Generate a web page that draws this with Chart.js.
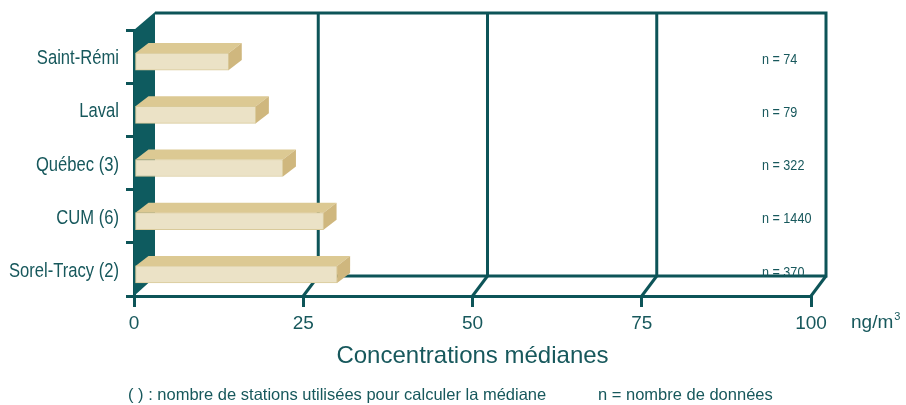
<!DOCTYPE html>
<html>
<head>
<meta charset="utf-8">
<script src="https://cdn.jsdelivr.net/npm/chart.js@4.4.1/dist/chart.umd.min.js"></script>
<style>
  html, body { margin: 0; padding: 0; background: #ffffff; }
  canvas { display: block; }
</style>
</head>
<body>
<canvas id="c" width="906" height="405"></canvas>
<script>
// Median concentrations (ng/m3) by station group
const stations = ['Saint-Rémi', 'Laval', 'Québec (3)', 'CUM (6)', 'Sorel-Tracy (2)'];
const medianes = [14, 18, 22, 28, 30];
const nDonnees = [74, 79, 322, 1440, 370];
const xTicks = [0, 25, 50, 75, 100];

const TEAL = '#0d5458';
const WALL = '#0e5b5f';
const TEXT = '#17585c';
const BAR_FRONT = '#ebe2c6';
const BAR_TOP = '#dcc993';
const BAR_SIDE = '#cfb77e';
const BAR_EDGE = '#d9ca9a';

const SANS = "'Liberation Sans', Arial, sans-serif";
const CONDENSE = 0.81; // horizontal squeeze for condensed labels

// pseudo-3D geometry
const BACK_DX = 15;      // back plane shift (right)
const WALL_DX = 21;      // depth of the left wall
const BACK_TOP_DY = -17; // back plane top relative to front top
const BACK_BOT_DY = -20; // back plane floor relative to front floor
const BAR_DX = 13, BAR_DY = -10; // bar depth

function condensedText(ctx, text, x, y, sx) {
  ctx.save();
  ctx.translate(x, y);
  ctx.scale(sx, 1);
  ctx.fillText(text, 0, 0);
  ctx.restore();
}

const scene3d = {
  id: 'scene3d',
  beforeDatasetsDraw(chart) {
    const { ctx, chartArea: a, scales: { x } } = chart;
    const backTop = a.top + BACK_TOP_DY;
    const backBot = a.bottom + BACK_BOT_DY;
    const backLeft = a.left + WALL_DX;
    const backRight = x.getPixelForValue(xTicks[xTicks.length - 1]) + BACK_DX;

    ctx.save();
    ctx.strokeStyle = TEAL;
    ctx.lineWidth = 3;
    ctx.lineJoin = 'miter';

    // back wall frame
    ctx.beginPath();
    ctx.moveTo(backLeft, backTop);
    ctx.lineTo(backRight, backTop);
    ctx.lineTo(backRight, backBot);
    ctx.lineTo(backLeft, backBot);
    ctx.stroke();

    // back wall gridlines
    xTicks.slice(1, -1).forEach(v => {
      const bx = x.getPixelForValue(v) + BACK_DX;
      ctx.beginPath();
      ctx.moveTo(bx, backTop);
      ctx.lineTo(bx, backBot);
      ctx.stroke();
    });

    // floor diagonals
    xTicks.slice(1).forEach(v => {
      const fx = x.getPixelForValue(v);
      ctx.beginPath();
      ctx.moveTo(fx, a.bottom);
      ctx.lineTo(fx + BACK_DX, backBot);
      ctx.stroke();
    });

    // left side wall
    ctx.fillStyle = WALL;
    ctx.beginPath();
    ctx.moveTo(a.left, a.top);
    ctx.lineTo(backLeft, backTop - 1);
    ctx.lineTo(backLeft, backBot + 1);
    ctx.lineTo(a.left, a.bottom);
    ctx.closePath();
    ctx.fill();
    ctx.restore();

    // bars: front faces sit half a depth below the band centre
    ctx.save();
    ctx.translate(0, -BAR_DY / 2);
  },
  afterDatasetsDraw(chart) {
    const { ctx } = chart;
    const meta = chart.getDatasetMeta(0);
    meta.data.forEach(bar => {
      const p = bar.getProps(['x', 'y', 'base', 'height'], true);
      const x0 = p.base, x1 = p.x;
      const t = p.y - p.height / 2, b = p.y + p.height / 2;
      // top face
      ctx.fillStyle = BAR_TOP;
      ctx.beginPath();
      ctx.moveTo(x0, t);
      ctx.lineTo(x0 + BAR_DX, t + BAR_DY);
      ctx.lineTo(x1 + BAR_DX, t + BAR_DY);
      ctx.lineTo(x1, t);
      ctx.closePath();
      ctx.fill();
      // side face
      ctx.fillStyle = BAR_SIDE;
      ctx.beginPath();
      ctx.moveTo(x1, t);
      ctx.lineTo(x1 + BAR_DX, t + BAR_DY);
      ctx.lineTo(x1 + BAR_DX, b + BAR_DY);
      ctx.lineTo(x1, b);
      ctx.closePath();
      ctx.fill();
    });
    ctx.restore();
  },
  afterDraw(chart) {
    const { ctx, chartArea: a, scales: { y } } = chart;
    ctx.save();
    ctx.fillStyle = TEXT;

    // station labels (condensed)
    ctx.font = `20.5px ${SANS}`;
    ctx.textAlign = 'right';
    ctx.textBaseline = 'middle';
    chart.data.labels.forEach((lab, i) => {
      condensedText(ctx, lab, a.left - 15, y.getPixelForValue(i) + 2, CONDENSE);
    });

    // data counts (condensed)
    ctx.font = `15px ${SANS}`;
    ctx.textAlign = 'left';
    nDonnees.forEach((n, i) => {
      condensedText(ctx, 'n = ' + n, a.right - 49, y.getPixelForValue(i) + 3, 0.84);
    });

    // unit
    ctx.font = `19px ${SANS}`;
    ctx.fillText('ng/m', a.right + 40, a.bottom + 27);
    const w = ctx.measureText('ng/m').width;
    ctx.font = `11px ${SANS}`;
    ctx.fillText('3', a.right + 41 + w, a.bottom + 21);

    // axis title
    ctx.font = `24px ${SANS}`;
    ctx.textAlign = 'center';
    ctx.textBaseline = 'alphabetic';
    ctx.fillText('Concentrations médianes', (a.left + a.right) / 2, a.bottom + 67);

    // footnotes
    ctx.font = `16.5px ${SANS}`;
    ctx.textAlign = 'left';
    ctx.fillText('( ) : nombre de stations utilisées pour calculer la médiane', a.left - 6, a.bottom + 104);
    ctx.fillText('n = nombre de données', 598, a.bottom + 104);
    ctx.restore();
  }
};

new Chart(document.getElementById('c'), {
  type: 'bar',
  data: {
    labels: stations,
    datasets: [{
      data: medianes,
      backgroundColor: BAR_FRONT,
      borderColor: BAR_EDGE,
      borderWidth: 1,
      borderSkipped: false,
      barThickness: 17
    }]
  },
  options: {
    indexAxis: 'y',
    responsive: false,
    animation: false,
    events: [],
    layout: { padding: { top: 30, right: 95, left: 0, bottom: 0 } },
    plugins: { legend: { display: false }, tooltip: { enabled: false }, title: { display: false } },
    scales: {
      x: {
        type: 'linear',
        min: 0,
        max: 100,
        afterBuildTicks: s => { s.ticks = xTicks.map(v => ({ value: v })); },
        afterFit: s => { s.height = 109; },
        ticks: {
          color: TEXT,
          font: { family: SANS, size: 19 },
          padding: 5,
          maxRotation: 0,
          autoSkip: false
        },
        grid: { display: true, drawOnChartArea: false, drawTicks: true, tickLength: 11, color: TEAL, lineWidth: 3 },
        border: { display: true, color: TEAL, width: 3 }
      },
      y: {
        afterFit: s => { s.width = 134; },
        ticks: { display: false },
        grid: { display: true, offset: true, drawOnChartArea: false, drawTicks: true, tickLength: 8, color: TEAL, lineWidth: 3 },
        border: { display: true, color: TEAL, width: 3 }
      }
    }
  },
  plugins: [scene3d]
});
</script>
</body>
</html>
